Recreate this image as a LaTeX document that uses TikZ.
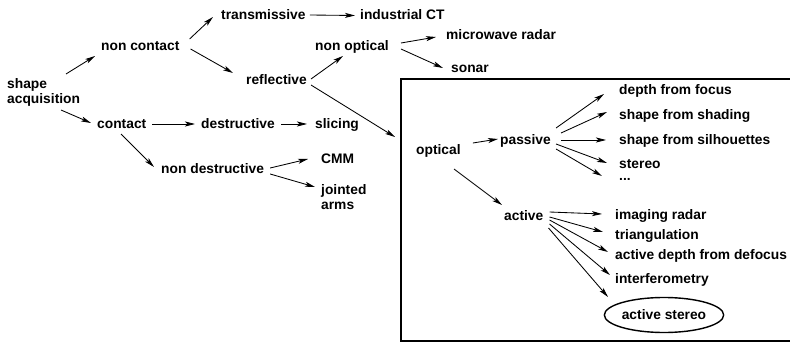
\documentclass[tikz,border=0pt]{standalone}
\usepackage{fontspec}
\setmainfont{Liberation Sans}
\usetikzlibrary{arrows.meta,shapes.geometric}
\begin{document}
\begin{tikzpicture}[x=1pt,y=-1pt,
  lbl/.style={anchor=base west, inner sep=0pt, font=\fontsize{13.8}{15}\selectfont\bfseries},
  mlbl/.style={anchor=north west, inner sep=0pt, align=left, font=\fontsize{13.8}{15}\selectfont\bfseries},
  arr/.style={line width=0.85pt, -{Stealth[length=10pt,width=5pt,inset=2.5pt]}},
  frame/.style={line width=1.2pt},
  oval/.style={draw, ellipse, line width=1.4pt, inner sep=0pt, minimum width=106pt, minimum height=35pt, font=\fontsize{13.8}{15}\selectfont\bfseries}]
\useasboundingbox (0,0) rectangle (790,342);
% frame around optical
\draw[frame] (791,79) -- (401,79) -- (401,341) -- (791,341);
% nodes
\node[mlbl] (sa) at (7,78.5) {shape\\acquisition};
\node[lbl] (nc) at (101,51) {non contact};
\node[lbl] (tr) at (221,20) {transmissive};
\node[lbl] (ict) at (360,20) {industrial CT};
\node[lbl] (rf) at (246,85) {reflective};
\node[lbl] (no) at (315,51) {non optical};
\node[lbl] (mw) at (446,40) {microwave radar};
\node[lbl] (so) at (451,73) {sonar};
\node[lbl] (ct) at (97,129) {contact};
\node[lbl] (de) at (201,129) {destructive};
\node[lbl] (sl) at (315,129) {slicing};
\node[lbl] (nd) at (161,174) {non destructive};
\node[lbl] (cmm) at (321,164) {CMM};
\node[mlbl] (ja) at (321,184) {jointed\\arms};
\node[lbl] (op) at (416,155) {optical};
\node[lbl] (pa) at (500,145) {passive};
\node[lbl] (ac) at (504,220) {active};
\node[lbl] (dff) at (619,95) {depth from focus};
\node[lbl] (sfs) at (619,120) {shape from shading};
\node[lbl] (sil) at (619,145) {shape from silhouettes};
\node[lbl] (st) at (619,168) {stereo};
\node[lbl] (dots) at (619,180) {...};
\node[lbl] (ir) at (615,219) {imaging radar};
\node[lbl] (tri) at (615,239) {triangulation};
\node[lbl] (adf) at (615,259) {active depth from defocus};
\node[lbl] (if) at (615,283) {interferometry};
\node[oval] (as) at (664,315) {active stereo};
% connectors
\draw[arr] ([shift={(59,-4.5)}]sa.north west) -- ([shift={(-6,5)}]nc.base west);
\draw[arr] ([shift={(54,31.5)}]sa.north west) -- ([shift={(-6,-6)}]ct.base west);
\draw[arr] ([shift={(10,-12)}]nc.base east) -- ([shift={(-8,-3)}]tr.base west);
\draw[arr] ([shift={(11,-2)}]nc.base east) -- ([shift={(-13,-12)}]rf.base west);
\draw[arr] ([shift={(4,-5)}]tr.base east) -- ([shift={(-5,-4.5)}]ict.base west);
\draw[arr] ([shift={(4,-6)}]rf.base east) -- ([shift={(28,5)}]no.base west);
\draw[arr] ([shift={(4,0)}]rf.base east) -- ([shift={(-21,-18)}]op.base west);
\draw[arr] ([shift={(12,-8)}]no.base east) -- ([shift={(-10,-3)}]mw.base west);
\draw[arr] ([shift={(12,-2)}]no.base east) -- ([shift={(-8,-5)}]so.base west);
\draw[arr] ([shift={(6,-5)}]ct.base east) -- ([shift={(-6,-5)}]de.base west);
\draw[arr] ([shift={(6,-5)}]de.base east) -- ([shift={(-8,-5)}]sl.base west);
\draw[arr] ([shift={(24,5)}]ct.base west) -- ([shift={(-7,-7)}]nd.base west);
\draw[arr] ([shift={(6,-6)}]nd.base east) -- ([shift={(-13,-5)}]cmm.base west);
\draw[arr] ([shift={(6,0)}]nd.base east) -- ([shift={(-6,3)}]ja.north west);
\draw[arr] ([shift={(12,-12)}]op.base east) -- ([shift={(-2,-6)}]pa.base west);
\draw[arr] ([shift={(38,14)}]op.base west) -- ([shift={(-2,-15)}]ac.base west);
\draw[arr] ([shift={(5,-17)}]pa.base east) -- ([shift={(-15,-1)}]dff.base west);
\draw[arr] ([shift={(10,-12)}]pa.base east) -- ([shift={(-12,-8)}]sfs.base west);
\draw[arr] ([shift={(10,-5)}]pa.base east) -- ([shift={(-13,-5)}]sil.base west);
\draw[arr] ([shift={(5,-1)}]pa.base east) -- ([shift={(-12,-5)}]st.base west);
\draw[arr] ([shift={(5,4)}]pa.base east) -- ([shift={(-17,-4)}]dots.base west);
\draw[arr] ([shift={(6,-8)}]ac.base east) -- ([shift={(-13,-5)}]ir.base west);
\draw[arr] ([shift={(6,-3)}]ac.base east) -- ([shift={(-12,-7)}]tri.base west);
\draw[arr] ([shift={(6,0)}]ac.base east) -- ([shift={(-7,-7)}]adf.base west);
\draw[arr] ([shift={(6,4)}]ac.base east) -- ([shift={(-5,-8)}]if.base west);
\draw[arr] ([shift={(5,8)}]ac.base east) -- ([shift={(-56,-18)}]as.center);
\end{tikzpicture}
\end{document}
